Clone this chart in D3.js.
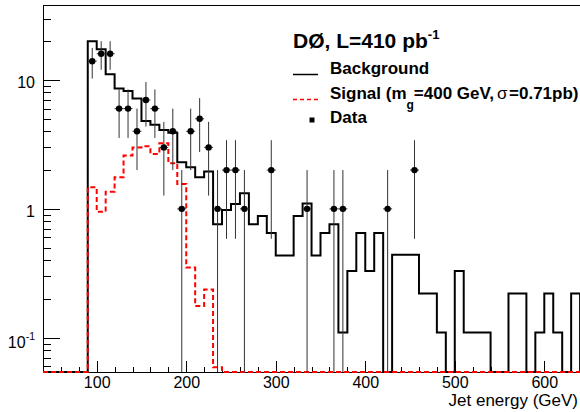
<!DOCTYPE html>
<meta charset="utf-8">
<style>
  body { margin: 0; background: #fff; }
  svg { display: block; font-family: "Liberation Sans", Arial, Helvetica, sans-serif; }
  .axis path, .axis line { stroke: #000; shape-rendering: crispEdges; }
  .axis text { font-size: 16px; fill: #000; }
</style>
<body>
<div id="chart"></div>
<script src="https://d3js.org/d3.v7.min.js"></script>
<script>

// 10 GeV bins, low edges from 90 GeV up to 630 GeV
const binWidth = 10;
const binLow = d3.range(90, 640, binWidth);

// background expectation (events / bin)
const background = [
  20, 17.3, 11.1, 8.6, 8.2, 7.2, 4.8, 4.5, 4.1, 3.9,
  2.3, 2.1, 1.76, 1.95, 0.76, 0.98, 1.09, 1.32, 0.76, 0.88,
  0.65, 0.435, 0.435, 0.88, 1.1, 0.435, 0.65, 0.76, 0.11, 0.33,
  0.65, 0.33, 0.65, 0, 0.44, 0.44, 0.44, 0.22, 0.22, 0.11,
  0, 0.33, 0.11, 0.11, 0.11, 0, 0, 0.22, 0.22, 0,
  0.11, 0.22, 0.11, 0, 0.22
];

// signal, m_g = 400 GeV
const signal = [
  1.47, 0.95, 1.36, 1.76, 2.59, 3.0, 3.06, 2.67, 3.23, 2.26,
  1.56, 0.35, 0.176, 0.237, 0.059, 0, 0, 0, 0, 0,
  0, 0, 0, 0, 0, 0, 0, 0, 0, 0,
  0, 0, 0, 0, 0, 0, 0, 0, 0, 0,
  0, 0, 0, 0, 0, 0, 0, 0, 0, 0,
  0, 0, 0, 0, 0
];

// observed events
const observed = [
  14, 16, 16, 6, 6, 4, 7, 6, 3, 4,
  1, 4, 5, 3, 1, 2, 2, 1, 0, 0,
  2, 0, 0, 0, 1, 0, 0, 1, 1, 0,
  0, 0, 0, 1, 0, 0, 2, 0, 0, 0,
  0, 0, 0, 0, 0, 0, 0, 0, 0, 0,
  0, 0, 0, 0, 0
];

const xMajor = [100, 200, 300, 400, 500, 600];
const xMinor = d3.range(60, 640, 20);
const yMajor = [0.1, 1, 10];
const yMinor = [0.06, 0.07, 0.08, 0.09, 0.2, 0.3, 0.4, 0.5, 0.6, 0.7, 0.8, 0.9,
                2, 3, 4, 5, 6, 7, 8, 9, 20, 30];

const W = 580, H = 412;
const fLeft = 43, fRight = 580.1, fTop = 5.3, fBottom = 372;

const x = d3.scaleLinear().domain([40, 640]).range([fLeft, fRight]);
const y = d3.scaleLog().domain([0.0542, 38]).range([fBottom, fTop]);

const svg = d3.select("#chart").append("svg")
  .attr("width", W)
  .attr("height", H);

svg.append("defs").append("clipPath").attr("id", "plot")
  .append("rect")
  .attr("x", fLeft).attr("y", fTop)
  .attr("width", fRight - fLeft).attr("height", fBottom - fTop + 1.5);

// frame
svg.append("rect")
  .attr("x", fLeft).attr("y", fTop)
  .attr("width", fRight - fLeft).attr("height", fBottom - fTop)
  .attr("fill", "none").attr("stroke", "#000")
  .attr("shape-rendering", "crispEdges");

// x axis
svg.append("g").attr("class", "axis")
  .attr("transform", `translate(0,${fBottom})`)
  .call(d3.axisBottom(x).tickValues(xMinor).tickSize(-5.5).tickFormat(""))
  .call(g => g.select(".domain").remove());

svg.append("g").attr("class", "axis")
  .attr("transform", `translate(0,${fBottom})`)
  .call(d3.axisBottom(x).tickValues(xMajor).tickSize(-11.5).tickFormat(d3.format("d")))
  .call(g => g.select(".domain").remove())
  .call(g => g.selectAll("text").attr("y", 5).attr("dy", "0.71em"));

// y axis
svg.append("g").attr("class", "axis")
  .attr("transform", `translate(${fLeft},0)`)
  .call(d3.axisLeft(y).tickValues(yMinor).tickSize(-8.3).tickFormat(""))
  .call(g => g.select(".domain").remove());

svg.append("g").attr("class", "axis")
  .attr("transform", `translate(${fLeft},0)`)
  .call(d3.axisLeft(y).tickValues(yMajor).tickSize(-16.7).tickFormat(d => d >= 1 ? d3.format("d")(d) : ""))
  .call(g => g.select(".domain").remove())
  .call(g => g.selectAll("text").attr("x", -8).attr("dy", "0.47em"))
  .call(g => g.selectAll(".tick").filter(d => d < 1).select("text")
    .attr("dy", "0.58em")
    .call(t => {
      t.append("tspan").text("10");
      t.append("tspan").attr("font-size", "10.5px").attr("dy", "-0.7em").text("-1");
    }));

svg.append("text")
  .attr("x", 578).attr("y", 406)
  .attr("text-anchor", "end")
  .attr("font-size", "17px")
  .text("Jet energy (GeV)");

// histograms: empty bins sit on the bottom of the frame
function stepPath(values) {
  const [e0, e1] = x.domain();
  const pts = [[e0, 0], [binLow[0], 0]];
  values.forEach((v, i) => {
    pts.push([binLow[i], v]);
    pts.push([binLow[i] + binWidth, v]);
  });
  pts.push([e1, 0]);
  return d3.line()
    .x(p => x(p[0]))
    .y(p => p[1] > 0 ? y(p[1]) : fBottom)(pts);
}

const plot = svg.append("g").attr("clip-path", "url(#plot)");

plot.append("path")
  .attr("d", stepPath(background))
  .attr("fill", "none")
  .attr("stroke", "#000")
  .attr("stroke-width", 2);

plot.append("path")
  .attr("d", stepPath(signal))
  .attr("fill", "none")
  .attr("stroke", "#f00")
  .attr("stroke-width", 2)
  .attr("stroke-dasharray", "5,3");

// data with sqrt(N) errors
const pts = observed.map((n, i) => ({ e: binLow[i] + binWidth / 2, n }))
  .filter(d => d.n > 0);

const yc = v => v > 0 ? Math.min(y(v), fBottom) : fBottom;

plot.selectAll("line.ey").data(pts).join("line")
  .attr("class", "ey")
  .attr("x1", d => x(d.e)).attr("x2", d => x(d.e))
  .attr("y1", d => yc(d.n + Math.sqrt(d.n)))
  .attr("y2", d => yc(d.n - Math.sqrt(d.n)))
  .attr("stroke", "#333").attr("stroke-width", 1);

plot.selectAll("line.ex").data(pts).join("line")
  .attr("class", "ex")
  .attr("x1", d => x(d.e - binWidth / 2)).attr("x2", d => x(d.e + binWidth / 2))
  .attr("y1", d => y(d.n)).attr("y2", d => y(d.n))
  .attr("stroke", "#333").attr("stroke-width", 1);

plot.selectAll("circle").data(pts).join("circle")
  .attr("cx", d => x(d.e)).attr("cy", d => y(d.n))
  .attr("r", 3.2).attr("fill", "#000");

// legend
const lg = svg.append("g").attr("font-weight", "bold");

const title = lg.append("text").attr("x", 293).attr("y", 48).attr("font-size", "21px");
title.append("tspan").text("D\u00d8, L=410 pb");
title.append("tspan").attr("font-size", "13px").attr("dy", -9.5).text("-1");

lg.append("line").attr("x1", 293).attr("x2", 318).attr("y1", 74.5).attr("y2", 74.5)
  .attr("stroke", "#000").attr("stroke-width", 1.5);
lg.append("text").attr("x", 330).attr("y", 74).attr("font-size", "17px").text("Background");

lg.append("line").attr("x1", 293).attr("x2", 318).attr("y1", 99.5).attr("y2", 99.5)
  .attr("stroke", "#f00").attr("stroke-width", 1.5).attr("stroke-dasharray", "4,3");
const sig = lg.append("text").attr("x", 330).attr("y", 99).attr("font-size", "17px");
sig.append("tspan").text("Signal (m");
sig.append("tspan").attr("font-size", "12px").attr("dy", 9.6).text("g");
sig.append("tspan").attr("dy", -9.6).text("=400 GeV,");
sig.append("tspan").attr("font-weight", "normal").attr("dx", 3).text("\u03c3");
sig.append("tspan").attr("dx", 1.5).text("=0.71pb)");

lg.append("rect").attr("x", 309.5).attr("y", 117.5).attr("width", 5).attr("height", 5).attr("fill", "#000");
lg.append("text").attr("x", 330).attr("y", 123.3).attr("font-size", "17px").text("Data");

</script>
</body>
